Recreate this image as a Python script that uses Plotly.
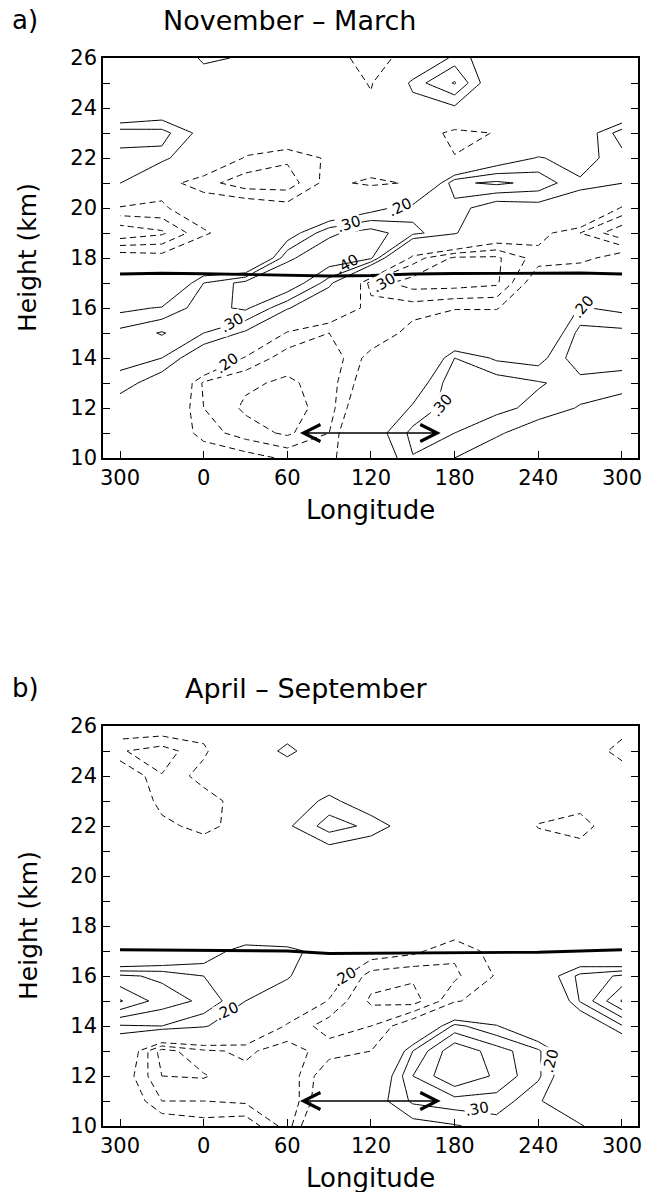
import plotly.graph_objects as go

# ---------------- data ----------------
LONS = [-60, -30, 0, 30, 60, 90, 120, 150, 180, 210, 240, 270, 300]   # -60 == 300 deg
HEIGHTS = [10, 11, 12, 13, 14, 15, 16, 17, 18, 19, 20, 21, 22, 23, 24, 25, 26]
LON_TICKS = [-60, 0, 60, 120, 180, 240, 300]
LON_TICK_TEXT = ["300", "0", "60", "120", "180", "240", "300"]

# November - March field, one row per height (10 km ... 26 km)
Z_NOV_MAR = [
    [0.0, -0.05, -0.1, -0.15, -0.22, -0.25, 0.04, 0.295, 0.2, 0.1, 0.05, 0.0, 0.0],
    [0.05, -0.05, -0.25, -0.35, -0.42, -0.3, 0.12, 0.33, 0.3, 0.22, 0.12, 0.05, 0.05],
    [0.12, 0.0, -0.3, -0.42, -0.45, -0.35, 0.0, 0.22, 0.36, 0.33, 0.27, 0.19, 0.12],
    [0.26, 0.12, -0.32, -0.38, -0.42, -0.35, -0.1, 0.1, 0.38, 0.36, 0.31, 0.26, 0.26],
    [0.34, 0.3, 0.08, -0.22, -0.35, -0.38, -0.15, -0.1, 0.3, 0.18, 0.15, 0.38, 0.34],
    [0.33, 0.41, 0.3, 0.18, -0.22, -0.3, -0.3, -0.15, -0.05, -0.05, 0.0, 0.34, 0.33],
    [0.17, 0.21, 0.36, 0.42, 0.22, -0.05, -0.25, -0.25, -0.21, -0.21, -0.05, 0.21, 0.17],
    [0.0, -0.05, 0.3, 0.44, 0.5, 0.25, -0.35, -0.45, -0.45, -0.42, -0.1, 0.0, 0.0],
    [-0.12, -0.15, -0.05, -0.15, 0.38, 0.48, 0.42, -0.25, -0.42, -0.42, -0.25, -0.25, -0.12],
    [-0.48, -0.42, -0.22, -0.1, 0.12, 0.38, 0.45, 0.33, 0.22, -0.05, -0.15, -0.3, -0.48],
    [-0.22, -0.22, -0.1, -0.1, -0.15, 0.0, 0.15, 0.26, 0.25, 0.12, 0.15, 0.159, -0.22],
    [0.205, -0.15, -0.26, -0.36, -0.36, -0.15, -0.24, -0.18, 0.38, 0.42, 0.37, 0.216, 0.205],
    [0.26, 0.263, -0.05, -0.21, -0.28, -0.18, -0.05, 0.0, -0.19, 0.1, 0.21, 0.15, 0.26],
    [0.36, 0.34, 0.15, -0.1, -0.05, 0.0, 0.0, -0.05, -0.26, -0.19, 0.0, 0.09, 0.36],
    [-0.04, 0.07, 0.0, 0.0, 0.0, 0.0, -0.15, 0.115, 0.18, 0.05, 0.0, 0.0, -0.04],
    [0.0, 0.0, 0.04, 0.1, 0.0, -0.02, -0.22, 0.25, 0.41, 0.07, 0.0, 0.0, 0.0],
    [0.05, -0.12, 0.25, 0.17, 0.0, -0.1, -0.3, -0.1, 0.25, 0.12, 0.05, 0.0, 0.05],
]

# April - September field
Z_APR_SEP = [
    [0.0, -0.1, -0.15, -0.12, -0.35, 0.1, 0.0, 0.15, 0.19, 0.25, 0.22, 0.22, 0.0],
    [-0.05, -0.3, -0.3, -0.32, -0.4, -0.05, 0.12, 0.32, 0.36, 0.36, 0.22, 0.0, -0.05],
    [-0.1, -0.4, -0.41, -0.33, -0.38, -0.1, 0.0, 0.4, 0.6, 0.48, 0.32, 0.0, -0.1],
    [0.0, -0.45, -0.32, -0.28, -0.35, -0.25, -0.2, 0.3, 0.58, 0.45, 0.32, 0.0, 0.0],
    [0.29, 0.3, 0.22, 0.05, -0.22, -0.35, -0.3, -0.1, 0.333, 0.21, 0.0, 0.022, 0.29],
    [0.61, 0.45, 0.38, 0.2, 0.0, -0.21, -0.42, -0.45, -0.22, -0.1, -0.117, 0.31, 0.61],
    [0.42, 0.38, 0.3, 0.3, 0.23, -0.1, -0.35, -0.38, -0.32, -0.19, 0.08, 0.33, 0.42],
    [-0.17, -0.05, 0.1, 0.28, 0.25, 0.12, -0.12, -0.17, -0.28, -0.15, -0.02, -0.02, -0.17],
    [-0.05, 0.0, 0.0, -0.05, -0.05, 0.0, -0.1, -0.15, -0.1, -0.1, 0.0, 0.0, -0.05],
    [0.0, 0.0, 0.0, 0.05, 0.05, 0.0, 0.0, -0.05, -0.05, 0.0, 0.0, 0.0, 0.0],
    [0.05, 0.05, 0.0, 0.0, 0.0, 0.05, 0.05, 0.0, -0.05, -0.05, 0.0, 0.05, 0.05],
    [0.0, -0.05, -0.1, 0.0, 0.05, 0.15, 0.089, 0.0, 0.0, 0.0, -0.1, -0.1, 0.0],
    [0.0, -0.16, -0.25, -0.125, 0.18, 0.35, 0.274, 0.112, 0.0, 0.0, -0.21, -0.3, 0.0],
    [0.0, -0.25, -0.26, -0.13, 0.1, 0.236, 0.1, 0.0, 0.0, 0.0, -0.1, -0.1, 0.0],
    [-0.06, -0.295, -0.15, 0.0, 0.0, 0.086, 0.0, 0.0, 0.0, 0.0, 0.0, 0.0, -0.06],
    [-0.29, -0.35, -0.225, 0.0, 0.26, 0.0, 0.0, 0.0, 0.0, 0.0, 0.0, -0.02, -0.29],
    [-0.1, -0.1, -0.14, 0.0, 0.05, 0.0, 0.0, 0.0, 0.0, 0.0, 0.0, -0.05, -0.1],
]

# tropopause height (thick line)
TROP_NOV_MAR = [17.36, 17.39, 17.37, 17.33, 17.31, 17.28, 17.30, 17.36, 17.38, 17.38, 17.39, 17.40, 17.36]
TROP_APR_SEP = [17.05, 17.04, 17.03, 17.02, 17.00, 16.90, 16.91, 16.90, 16.90, 16.92, 16.95, 17.00, 17.05]

ARROW_LON = [68, 170]
ARROW_H = 11

# contour labels: (lon, height, text, angle, white background)
LABELS_NOV_MAR = [
    (104, 19.35, ".30", -18, True), (141, 20.05, ".20", -25, True), (103, 17.75, ".40", -30, False),
    (20, 15.4, ".30", -30, True), (17, 13.8, ".20", -35, True), (129, 17.0, ".30", -30, True),
    (272, 16.05, ".20", -50, True), (171, 12.1, ".30", -50, True),
]
LABELS_APR_SEP = [
    (17, 14.6, ".20", -25, True), (101, 15.95, ".20", -30, True), (249, 12.6, ".20", -75, True),
    (196, 10.7, ".30", -10, True),
]

TITLES = ["November \u2013 March", "April \u2013 September"]
PANEL_TAGS = ["a)", "b)"]

# ---------------- figure ----------------
W, H = 650, 1192
FONT = "DejaVu Sans"
X_DOM = [103 / W, 638 / W]
PANELS = [  # (top px, bottom px)
    (58, 458),
    (726, 1126),
]
TITLE_X = [289, 306]

fig = go.Figure()
fields = [Z_NOV_MAR, Z_APR_SEP]
trops = [TROP_NOV_MAR, TROP_APR_SEP]
labels = [LABELS_NOV_MAR, LABELS_APR_SEP]

for i in range(2):
    xa = "x" if i == 0 else "x2"
    ya = "y" if i == 0 else "y2"
    z = fields[i]
    fig.add_trace(go.Contour(
        x=LONS, y=HEIGHTS, z=z, xaxis=xa, yaxis=ya,
        autocontour=False,
        contours=dict(start=0.2, end=0.75, size=0.1, coloring="lines", showlabels=False),
        colorscale=[[0, "black"], [1, "black"]], showscale=False,
        line=dict(width=1, smoothing=0), hoverinfo="skip",
    ))
    fig.add_trace(go.Contour(
        x=LONS, y=HEIGHTS, z=z, xaxis=xa, yaxis=ya,
        autocontour=False,
        contours=dict(start=-0.7, end=-0.15, size=0.1, coloring="lines", showlabels=False),
        colorscale=[[0, "black"], [1, "black"]], showscale=False,
        line=dict(width=1, smoothing=0, dash="6px,4px"), hoverinfo="skip",
    ))
    fig.add_trace(go.Scatter(
        x=LONS, y=trops[i], xaxis=xa, yaxis=ya, mode="lines",
        line=dict(color="black", width=2.8), hoverinfo="skip", showlegend=False,
    ))
    for (lo, hh, txt, ang, bg) in labels[i]:
        fig.add_annotation(x=lo, y=hh, xref=xa, yref=ya, text=txt, showarrow=False,
                           textangle=ang, font=dict(family=FONT, size=15, color="black"),
                           bgcolor="white" if bg else "rgba(0,0,0,0)", borderpad=0)
    # double-headed arrow
    fig.add_annotation(x=ARROW_LON[1], y=ARROW_H, ax=ARROW_LON[0], ay=ARROW_H,
                       xref=xa, yref=ya, axref=xa, ayref=ya, text="", showarrow=True,
                       arrowhead=5, startarrowhead=5, arrowside="end+start",
                       arrowsize=2.2, startarrowsize=2.2, arrowwidth=1.5, arrowcolor="black")

    top, bot = PANELS[i]
    ydom = [1 - bot / H, 1 - top / H]
    axis_common = dict(showline=True, linecolor="black", linewidth=1.5,
                       ticks="inside", ticklen=7, tickwidth=1, tickcolor="black",
                       showgrid=False, zeroline=False, automargin=False,
                       tickfont=dict(family=FONT, size=21, color="black"))
    xkey = "xaxis" if i == 0 else "xaxis2"
    ykey = "yaxis" if i == 0 else "yaxis2"
    fig.update_layout(**{
        xkey: dict(domain=X_DOM, range=[-72.2, 311.5], tickvals=LON_TICKS, ticktext=LON_TICK_TEXT,
                   anchor=ya, mirror=True, **axis_common),
        ykey: dict(domain=ydom, range=[10, 26], tickvals=list(range(10, 27, 2)),
                   minor=dict(dtick=1, ticks="inside", ticklen=7, tickcolor="black", showgrid=False),
                   anchor=xa, mirror="allticks", **axis_common),
    })
    # titles
    fig.add_annotation(x=10 / W, y=1 - (top - 38) / H, xref="paper", yref="paper", text=PANEL_TAGS[i],
                       showarrow=False, xanchor="left", yanchor="middle",
                       font=dict(family=FONT, size=26, color="black"))
    fig.add_annotation(x=TITLE_X[i] / W, y=1 - (top - 38) / H, xref="paper", yref="paper",
                       text=TITLES[i], showarrow=False, xanchor="center", yanchor="middle",
                       font=dict(family=FONT, size=27, color="black"))
    fig.add_annotation(x=28 / W, y=1 - (top + bot) / 2 / H, xref="paper", yref="paper",
                       text="Height (km)", textangle=-90, showarrow=False,
                       xanchor="center", yanchor="middle",
                       font=dict(family=FONT, size=25, color="black"))
    fig.add_annotation(x=370 / W, y=1 - (bot + 52) / H, xref="paper", yref="paper",
                       text="Longitude", showarrow=False, xanchor="center", yanchor="middle",
                       font=dict(family=FONT, size=26, color="black"))

fig.update_layout(width=W, height=H, margin=dict(l=0, r=0, t=0, b=0, pad=0),
                  paper_bgcolor="white", plot_bgcolor="white", showlegend=False)

fig.write_html("out.html",
               post_script="document.body.style.margin='0px';document.body.style.overflow='hidden';")
